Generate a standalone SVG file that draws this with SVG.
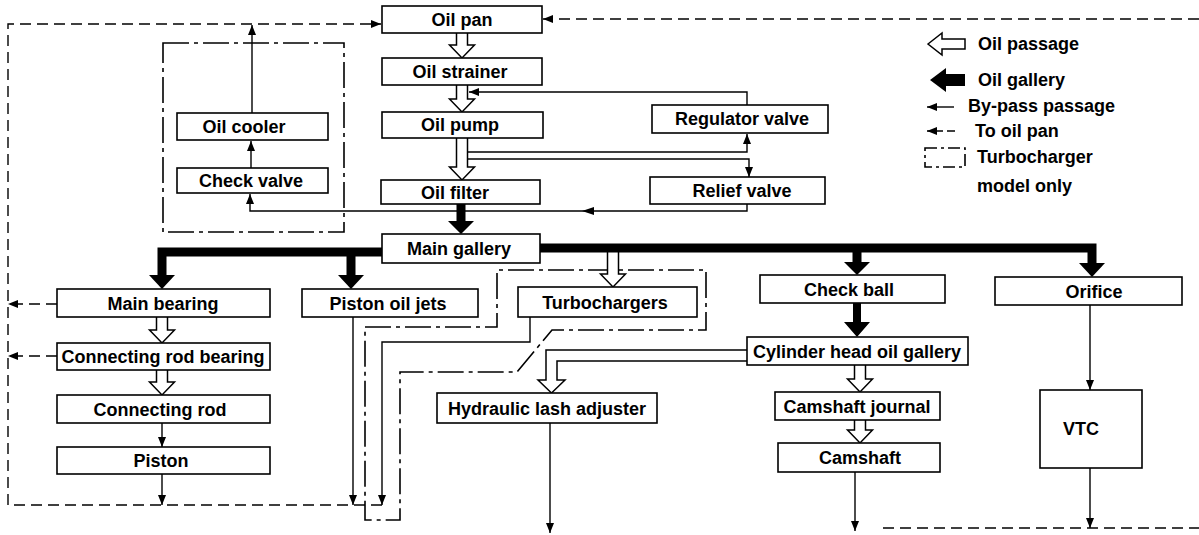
<svg xmlns="http://www.w3.org/2000/svg" width="1199" height="535" viewBox="0 0 1199 535">
<defs>
<style>
.box{fill:#fff;stroke:#000;stroke-width:1.6}
.t{font-family:"Liberation Sans",Arial,sans-serif;font-weight:bold;font-size:18px;text-anchor:middle;fill:#000}
.lt{font-family:"Liberation Sans",Arial,sans-serif;font-weight:bold;font-size:18px;fill:#000}
.ln{fill:none;stroke:#000;stroke-width:1.4}
.dash{stroke-dasharray:11 6}
.dd{fill:none;stroke:#000;stroke-width:1.6;stroke-dasharray:26 5 4 5}
.gal{fill:none;stroke:#000;stroke-width:9}
.hol{fill:#fff;stroke:#000;stroke-width:1.5}
.blk{fill:#000;stroke:none}
</style>
<marker id="ah" viewBox="0 0 10 8" refX="10" refY="4" markerWidth="10" markerHeight="8" markerUnits="userSpaceOnUse" orient="auto"><path d="M0,0 L10,4 L0,8 z" fill="#000"/></marker>
</defs>
<rect width="1199" height="535" fill="#fff"/>

<g id="groups">
<rect class="dd" x="163" y="43" width="181" height="189"/>
<polygon class="dd" points="365,327 497,327 497,270 706,270 706,330 552,330 517,372 400,372 400,520 365,520"/>
</g>

<g id="connectors">
<path class="ln dash" d="M382,505 H8 V24 H381" marker-end="url(#ah)"/>
<path class="ln dash" d="M1199,19 H543" marker-end="url(#ah)"/>
<path class="ln dash" d="M883,528 H1199"/>
<path class="ln dash" d="M57,304 H8" marker-end="url(#ah)"/>
<path class="ln dash" d="M57,356 H8" marker-end="url(#ah)"/>
<path class="ln" d="M747,105 V92 H469" marker-end="url(#ah)"/>
<path class="ln" d="M468,152 H747 V134" marker-end="url(#ah)"/>
<path class="ln" d="M468,159 H749 V177" marker-end="url(#ah)"/>
<path class="ln" d="M747,204 V211 H250 V194" marker-end="url(#ah)"/>
<polygon class="blk" points="582,211 594,207 594,215"/>
<path class="ln" d="M251,168 V141" marker-end="url(#ah)"/>
<path class="ln" d="M252,113 V25" marker-end="url(#ah)"/>
<path class="ln" d="M162,423 V447" marker-end="url(#ah)"/>
<path class="ln" d="M162,474 V505" marker-end="url(#ah)"/>
<path class="ln" d="M353,317 V505" marker-end="url(#ah)"/>
<path class="ln" d="M530,317 V342 H382 V505" marker-end="url(#ah)"/>
<path class="ln" d="M550,423 V533" marker-end="url(#ah)"/>
<path class="ln" d="M855,472 V531" marker-end="url(#ah)"/>
<path class="ln" d="M1090,305 V390" marker-end="url(#ah)"/>
<path class="ln" d="M1090,468 V528" marker-end="url(#ah)"/>

<polyline class="hol" points="456.5,33 456.5,45 449.5,45 462,58 474.5,45 467.5,45 467.5,33"/>
<polyline class="hol" points="456.5,85 456.5,99 449.5,99 462,112 474.5,99 467.5,99 467.5,85"/>
<polyline class="hol" points="456.5,138 456.5,167 449.5,167 462,180 474.5,167 467.5,167 467.5,138"/>
<polyline class="hol" points="156.5,317 156.5,330 149.5,330 162,343 174.5,330 167.5,330 167.5,317"/>
<polyline class="hol" points="156.5,370 156.5,382 149.5,382 162,395 174.5,382 167.5,382 167.5,370"/>
<polyline class="hol" points="607.5,252 607.5,274 600.5,274 613,287 625.5,274 618.5,274 618.5,252"/>
<polyline class="hol" points="854.5,365 854.5,379 847.5,379 860,392 872.5,379 865.5,379 865.5,365"/>
<polyline class="hol" points="854.5,420 854.5,430 847.5,430 860,443 872.5,430 865.5,430 865.5,420"/>
<polyline class="hol" points="747,350 546,350 546,380 538,380 551.5,393 565,380 557,380 557,361 747,361"/>

<path class="gal" d="M382,252 H162 V276"/>
<polygon class="blk" points="149,275 175,275 162,289"/>
<path class="gal" d="M351,252 V276"/>
<polygon class="blk" points="338,275 364,275 351,289"/>
<path class="gal" d="M540,248 H1092 V264"/>
<path class="gal" d="M857,248 V263"/>
<polygon class="blk" points="844,262 870,262 857,275"/>
<polygon class="blk" points="1079,263 1105,263 1092,277"/>
<polygon class="blk" points="456.5,204 456.5,221 448,221 461,234 474,221 465.5,221 465.5,204"/>
<polygon class="blk" points="853,303 853,322 844,322 857,337 870,322 861,322 861,303"/>
</g>

<g id="oil-pan"><rect class="box" x="382" y="6" width="160" height="27"/><text class="t" x="462" y="26">Oil pan</text></g>
<g id="oil-strainer"><rect class="box" x="382" y="58" width="160" height="27"/><text class="t" x="460" y="78">Oil strainer</text></g>
<g id="oil-pump"><rect class="box" x="382" y="112" width="161" height="26"/><text class="t" x="460" y="131">Oil pump</text></g>
<g id="oil-filter"><rect class="box" x="381" y="180" width="159" height="24"/><text class="t" x="455" y="198.5">Oil filter</text></g>
<g id="main-gallery"><rect class="box" x="382" y="234" width="158" height="29"/><text class="t" x="459" y="255">Main gallery</text></g>
<g id="regulator-valve"><rect class="box" x="652" y="105" width="176" height="28"/><text class="t" x="742" y="125">Regulator valve</text></g>
<g id="relief-valve"><rect class="box" x="650" y="177" width="175" height="27"/><text class="t" x="742" y="197">Relief valve</text></g>
<g id="oil-cooler"><rect class="box" x="177" y="113" width="151" height="27"/><text class="t" x="244" y="133">Oil cooler</text></g>
<g id="check-valve"><rect class="box" x="177" y="168" width="151" height="25"/><text class="t" x="251" y="187">Check valve</text></g>
<g id="main-bearing"><rect class="box" x="57" y="289" width="213" height="28"/><text class="t" x="163" y="310">Main bearing</text></g>
<g id="connecting-rod-bearing"><rect class="box" x="57" y="343" width="213" height="27"/><text class="t" x="163" y="363">Connecting rod bearing</text></g>
<g id="connecting-rod"><rect class="box" x="57" y="395" width="213" height="28"/><text class="t" x="160" y="416">Connecting rod</text></g>
<g id="piston"><rect class="box" x="57" y="447" width="213" height="27"/><text class="t" x="161" y="467">Piston</text></g>
<g id="piston-oil-jets"><rect class="box" x="302" y="289" width="176" height="28"/><text class="t" x="388" y="310">Piston oil jets</text></g>
<g id="turbochargers"><rect class="box" x="518" y="287" width="179" height="30"/><text class="t" x="605" y="309">Turbochargers</text></g>
<g id="check-ball"><rect class="box" x="760" y="275" width="185" height="28"/><text class="t" x="849" y="296">Check ball</text></g>
<g id="orifice"><rect class="box" x="995" y="277" width="187" height="28"/><text class="t" x="1094" y="298">Orifice</text></g>
<g id="cylinder-head-oil-gallery"><rect class="box" x="747" y="337" width="221" height="28"/><text class="t" x="857" y="358">Cylinder head oil gallery</text></g>
<g id="hydraulic-lash-adjuster"><rect class="box" x="437" y="393" width="220" height="30"/><text class="t" x="547" y="415">Hydraulic lash adjuster</text></g>
<g id="camshaft-journal"><rect class="box" x="775" y="392" width="165" height="28"/><text class="t" x="857" y="413">Camshaft journal</text></g>
<g id="camshaft"><rect class="box" x="778" y="443" width="162" height="29"/><text class="t" x="860" y="464">Camshaft</text></g>
<g id="vtc"><rect class="box" x="1040" y="390" width="102" height="78"/><text class="t" x="1081" y="435">VTC</text></g>

<g id="legend">
<polygon class="hol" points="928,44 942,33 942,39 965,39 965,49 942,49 942,55"/>
<text class="lt" x="978" y="50">Oil passage</text>
<polygon class="blk" points="930,80 946,68 946,74 965,74 965,86 946,86 946,92"/>
<text class="lt" x="978" y="86">Oil gallery</text>
<path class="ln" d="M954,107 H927" marker-end="url(#ah)"/>
<text class="lt" x="968" y="112">By-pass passage</text>
<path class="ln" d="M955,131 H927" stroke-dasharray="8 4" marker-end="url(#ah)"/>
<text class="lt" x="975" y="137">To oil pan</text>
<rect class="dd" x="925" y="148" width="40" height="19" style="stroke-dasharray:12 4 3 4"/>
<text class="lt" x="977" y="163">Turbocharger</text>
<text class="lt" x="977" y="192">model only</text>
</g>
</svg>
